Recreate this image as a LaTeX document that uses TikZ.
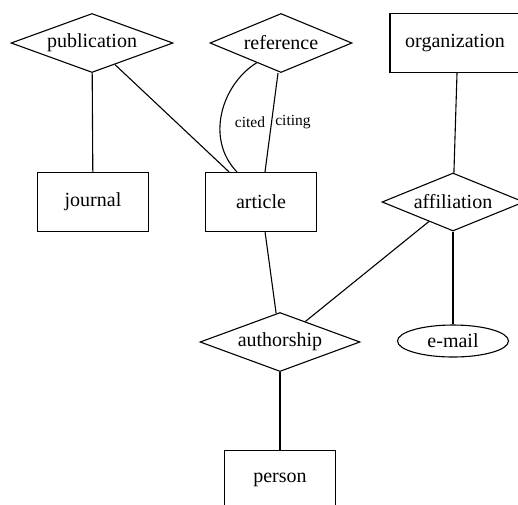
\documentclass[tikz,border=0pt]{standalone}
\usepackage{fontspec}
\setmainfont{Liberation Serif}
\usetikzlibrary{shapes.geometric}
\begin{document}
\begin{tikzpicture}[x=1pt,y=-1pt,
  every node/.style={font=\fontsize{20}{24}\selectfont, inner sep=0pt},
  ent/.style={draw, line width=1.1pt, rectangle, minimum width=111pt, minimum height=59pt},
  rel/.style={draw, line width=1.1pt, diamond, shape aspect=2.7, minimum height=59pt},
  att/.style={draw, line width=1.1pt, ellipse, minimum width=111pt, minimum height=32pt},
  conn/.style={line width=1.1pt},
  lbl/.style={font=\fontsize{15.5}{18}\selectfont}]
\useasboundingbox (0,0) rectangle (518,504);
\node[rel, minimum width=162pt] (pub) at (92,43) {publication};
\node[rel, minimum width=142pt] (ref) at (281,43) {reference};
\node[ent, minimum width=130pt] (org) at (455,43) {organization};
\node[ent] (jou) at (93,202) {journal};
\node[ent] (art) at (261,202) {article};
\node[rel, minimum width=142pt, minimum height=58pt] (aff) at (453,202) {affiliation};
\node[rel, minimum width=160pt] (aut) at (280,342) {authorship};
\node[att] (ema) at (453,341) {e-mail};
\node[ent] (per) at (280,480) {person};
\node[lbl] (cited) at (250,122) {cited};
\node[lbl] (citing) at (293,122) {citing};
\draw[conn] (pub) -- (jou);
\draw[conn] (pub) -- (art);
\draw[conn] (ref.219) .. controls +(-35,22) and +(-32,-33) .. ([xshift=-24pt]art.north);
\draw[conn] ([xshift=-3pt]ref.south) -- ([xshift=4pt]art.north);
\draw[conn] ([xshift=2pt]org.south) -- (aff);
\draw[conn] (art) -- (aut);
\draw[conn] (aff) -- (aut);
\draw[conn] (aff) -- (ema);
\draw[conn] (aut) -- (per);
\end{tikzpicture}
\end{document}
